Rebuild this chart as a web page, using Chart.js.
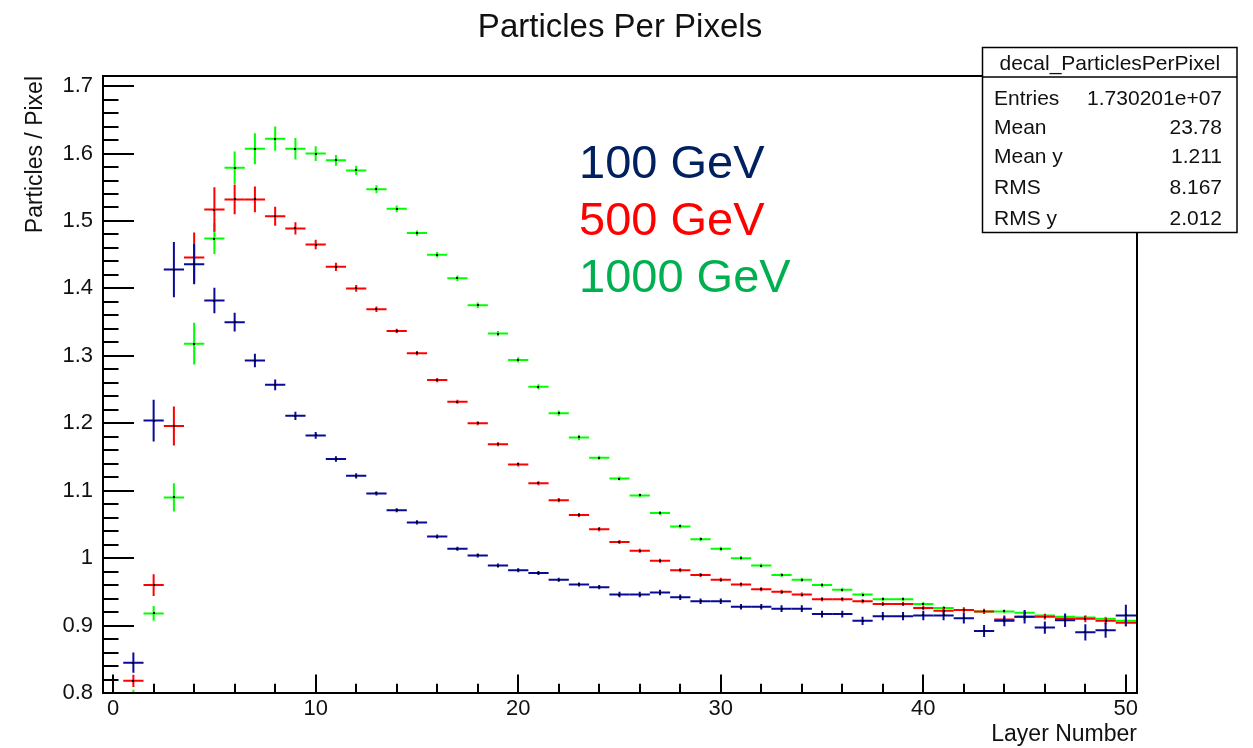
<!DOCTYPE html>
<html>
<head>
<meta charset="utf-8">
<script src="https://cdn.jsdelivr.net/npm/chart.js@4/dist/chart.umd.min.js"></script>
<style>
  html, body { margin: 0; padding: 0; background: #fff; }
  #wrap { width: 1253px; height: 748px; position: relative; }
</style>
</head>
<body>
<div id="wrap"><canvas id="c" width="1253" height="748"></canvas></div>
<script>
// ---------------- data ----------------
const layers = [1,2,3,4,5,6,7,8,9,10,11,12,13,14,15,16,17,18,19,20,21,22,23,24,25,
                26,27,28,29,30,31,32,33,34,35,36,37,38,39,40,41,42,43,44,45,46,47,48,49,50];

const vals100 = [0.845,1.204,1.428,1.436,1.382,1.350,1.293,1.257,1.211,1.182,
                 1.147,1.122,1.096,1.071,1.053,1.032,1.014,1.004,0.989,0.982,
                 0.978,0.968,0.961,0.957,0.946,0.946,0.949,0.942,0.936,0.936,
                 0.928,0.928,0.925,0.925,0.917,0.917,0.907,0.914,0.914,0.915,
                 0.915,0.911,0.892,0.907,0.913,0.897,0.908,0.890,0.893,0.915];
const errs100 = [0.015,0.031,0.041,0.030,0.019,0.014,0.010,0.008,0.006,0.005,
                 0.004,0.004,0.003,0.003,0.003,0.003,0.003,0.003,0.003,0.003,
                 0.003,0.003,0.003,0.003,0.004,0.004,0.004,0.004,0.004,0.004,
                 0.004,0.004,0.005,0.005,0.005,0.005,0.006,0.006,0.006,0.007,
                 0.007,0.008,0.009,0.008,0.010,0.009,0.010,0.012,0.011,0.016];

const vals500 = [0.818,0.960,1.196,1.446,1.517,1.532,1.532,1.507,1.489,1.465,
                 1.432,1.400,1.369,1.337,1.304,1.264,1.232,1.200,1.169,1.139,
                 1.111,1.086,1.064,1.043,1.024,1.011,0.996,0.982,0.975,0.968,
                 0.961,0.954,0.950,0.946,0.939,0.939,0.936,0.932,0.932,0.926,
                 0.922,0.923,0.921,0.909,0.913,0.913,0.910,0.910,0.907,0.904];
const errs500 = [0.009,0.016,0.029,0.037,0.033,0.022,0.019,0.014,0.009,0.007,
                 0.006,0.005,0.004,0.003,0.003,0.003,0.003,0.003,0.003,0.003,
                 0.003,0.003,0.003,0.003,0.003,0.003,0.003,0.003,0.003,0.003,
                 0.003,0.003,0.003,0.003,0.003,0.003,0.003,0.003,0.003,0.003,
                 0.004,0.004,0.004,0.004,0.004,0.004,0.004,0.005,0.005,0.005];

const vals1000 = [0.792,0.918,1.090,1.318,1.474,1.579,1.607,1.622,1.607,1.600,
                  1.590,1.575,1.547,1.518,1.482,1.450,1.415,1.375,1.333,1.294,
                  1.254,1.215,1.179,1.149,1.118,1.093,1.067,1.047,1.028,1.014,
                  1.000,0.989,0.975,0.968,0.960,0.953,0.946,0.939,0.939,0.932,
                  0.926,0.923,0.921,0.921,0.919,0.915,0.913,0.912,0.910,0.907];
const errs1000 = [0.013,0.011,0.021,0.031,0.023,0.024,0.023,0.018,0.016,0.011,
                  0.008,0.007,0.006,0.005,0.004,0.004,0.004,0.004,0.004,0.004,
                  0.004,0.004,0.004,0.003,0.003,0.003,0.003,0.003,0.003,0.003,
                  0.003,0.003,0.003,0.003,0.003,0.003,0.003,0.003,0.003,0.003,
                  0.003,0.003,0.003,0.003,0.003,0.003,0.003,0.003,0.003,0.003];

const seriesNames = ['100 GeV', '500 GeV', '1000 GeV'];
const xTickValues = [0, 10, 20, 30, 40, 50];
const yTickValues = [0.8, 0.9, 1.0, 1.1, 1.2, 1.3, 1.4, 1.5, 1.6, 1.7];

const chartTitle = 'Particles Per Pixels';
const xTitle = 'Layer Number';
const yTitle = 'Particles / Pixel';
const statsHeader = 'decal_ParticlesPerPixel';
const statLabels = ['Entries', 'Mean', 'Mean y', 'RMS', 'RMS y'];
const statValues = ['1.730201e+07', '23.78', '1.211', '8.167', '2.012'];

// ---------------- styles ----------------
const FONT = "'Liberation Sans', Arial, Helvetica, sans-serif";
const lineColors = ['#0a0a99', '#ff0000', '#00ff00'];
const labelColors = ['#002060', '#ff0000', '#00b050'];

function toPoints(v, e) { return layers.map((x, i) => ({ x: x, y: v[i], err: e[i] })); }

const errorCrossPlugin = {
  id: 'errorCross',
  beforeDraw(chart) {
    const ctx = chart.ctx;
    ctx.save();
    ctx.fillStyle = '#ffffff';
    ctx.fillRect(0, 0, chart.width, chart.height);
    ctx.restore();
  },
  afterDatasetsDraw(chart) {
    const ctx = chart.ctx;
    const xs = chart.scales.x, ys = chart.scales.y;
    const a = chart.chartArea;
    ctx.save();
    ctx.beginPath();
    ctx.rect(a.left, a.top, a.right - a.left, a.bottom - a.top);
    ctx.clip();
    // draw order: 1000 GeV, 500 GeV, 100 GeV on top
    [2, 1, 0].forEach(di => {
      const ds = chart.data.datasets[di];
      const meta = chart.getDatasetMeta(di);
      ctx.strokeStyle = ds.borderColor;
      ctx.lineWidth = 2;
      meta.data.forEach((el, j) => {
        const p = ds.data[j];
        const px = el.x, py = el.y;
        const x0 = xs.getPixelForValue(p.x - 0.5), x1 = xs.getPixelForValue(p.x + 0.5);
        const y0 = ys.getPixelForValue(p.y - p.err), y1 = ys.getPixelForValue(p.y + p.err);
        ctx.beginPath();
        ctx.moveTo(x0, py); ctx.lineTo(x1, py);
        ctx.moveTo(px, y0); ctx.lineTo(px, y1);
        ctx.stroke();
      });
      ctx.fillStyle = '#000';
      meta.data.forEach(el => { ctx.fillRect(Math.round(el.x) - 1, Math.round(el.y) - 1, 2, 2); });
    });
    ctx.restore();

    // frame
    ctx.save();
    ctx.strokeStyle = '#000';
    ctx.lineWidth = 2;
    ctx.strokeRect(a.left, a.top, a.right - a.left, a.bottom - a.top);
    const yw = a.right - a.left, xh = a.bottom - a.top;
    for (let k = 0; k <= 45; k++) {
      const v = 0.8 + k * 0.02;
      const py = Math.round(ys.getPixelForValue(v));
      const len = (k % 5 === 0) ? 0.03 * yw : 0.015 * yw;
      ctx.beginPath(); ctx.moveTo(a.left, py); ctx.lineTo(a.left + len, py); ctx.stroke();
    }
    for (let k = 0; k <= 25; k++) {
      const v = k * 2;
      const px = Math.round(xs.getPixelForValue(v));
      const len = (k % 5 === 0) ? 0.03 * xh : 0.015 * xh;
      ctx.beginPath(); ctx.moveTo(px, a.bottom); ctx.lineTo(px, a.bottom - len); ctx.stroke();
    }
    ctx.restore();
  },
  afterDraw(chart) {
    const ctx = chart.ctx;
    ctx.save();
    // energy labels
    ctx.font = '47px ' + FONT;
    ctx.textAlign = 'left';
    ctx.textBaseline = 'alphabetic';
    const baselines = [178, 235, 292];
    seriesNames.forEach((s, i) => { ctx.fillStyle = labelColors[i]; ctx.fillText(s, 579, baselines[i]); });

    // stats box
    const bx = 982.5, by = 47.5, bw = 254.5, bh = 185;
    ctx.fillStyle = '#fff';
    ctx.fillRect(bx, by, bw, bh);
    ctx.strokeStyle = '#000';
    ctx.lineWidth = 1.5;
    ctx.strokeRect(bx, by, bw, bh);
    ctx.beginPath(); ctx.moveTo(bx, 77); ctx.lineTo(bx + bw, 77); ctx.stroke();
    ctx.fillStyle = '#111';
    ctx.font = '21px ' + FONT;
    ctx.textAlign = 'center';
    ctx.fillText(statsHeader, bx + bw / 2, 70);
    const rowBase = [105, 134, 163, 194, 225];
    statLabels.forEach((l, i) => {
      ctx.textAlign = 'left';
      ctx.fillText(l, 994, rowBase[i]);
      ctx.textAlign = 'right';
      ctx.fillText(statValues[i], 1222, rowBase[i]);
    });
    ctx.restore();
  }
};

const chart = new Chart(document.getElementById('c'), {
  type: 'scatter',
  data: {
    datasets: [
      { label: seriesNames[0], data: toPoints(vals100, errs100), borderColor: lineColors[0], backgroundColor: lineColors[0], pointRadius: 0, showLine: false },
      { label: seriesNames[1], data: toPoints(vals500, errs500), borderColor: lineColors[1], backgroundColor: lineColors[1], pointRadius: 0, showLine: false },
      { label: seriesNames[2], data: toPoints(vals1000, errs1000), borderColor: lineColors[2], backgroundColor: lineColors[2], pointRadius: 0, showLine: false }
    ]
  },
  options: {
    responsive: false,
    animation: false,
    events: [],
    layout: { padding: { left: 0, right: 116, top: 0, bottom: 0 } },
    plugins: {
      legend: { display: false },
      tooltip: { enabled: false },
      title: {
        display: true, text: chartTitle, fullSize: false, color: '#111',
        font: { family: FONT, size: 33, weight: 'normal', lineHeight: 1.2 },
        padding: { top: 8, bottom: 28.4 }
      }
    },
    scales: {
      x: {
        type: 'linear', min: -0.5, max: 50.55,
        grid: { display: false, drawTicks: false },
        border: { display: false },
        afterFit: s => { s.height = 55; },
        afterBuildTicks: s => { s.ticks = xTickValues.map(v => ({ value: v })); },
        ticks: { color: '#111', padding: 3, font: { family: FONT, size: 22 }, callback: v => String(v), maxRotation: 0, autoSkip: false },
        title: { display: true, text: xTitle, align: 'end', color: '#111', font: { family: FONT, size: 23 }, padding: { top: 0, bottom: 0 } }
      },
      y: {
        type: 'linear', min: 0.8, max: 1.715,
        grid: { display: false, drawTicks: false },
        border: { display: false },
        afterFit: s => { s.width = 103; },
        afterBuildTicks: s => { s.ticks = yTickValues.map(v => ({ value: v })); },
        ticks: { color: '#111', padding: 10, font: { family: FONT, size: 22 }, callback: v => String(Math.round(v * 10) / 10), autoSkip: false },
        title: { display: true, text: yTitle, align: 'end', color: '#111', font: { family: FONT, size: 23 }, padding: { top: 22, bottom: 0 } }
      }
    }
  },
  plugins: [errorCrossPlugin]
});
</script>
</body>
</html>
